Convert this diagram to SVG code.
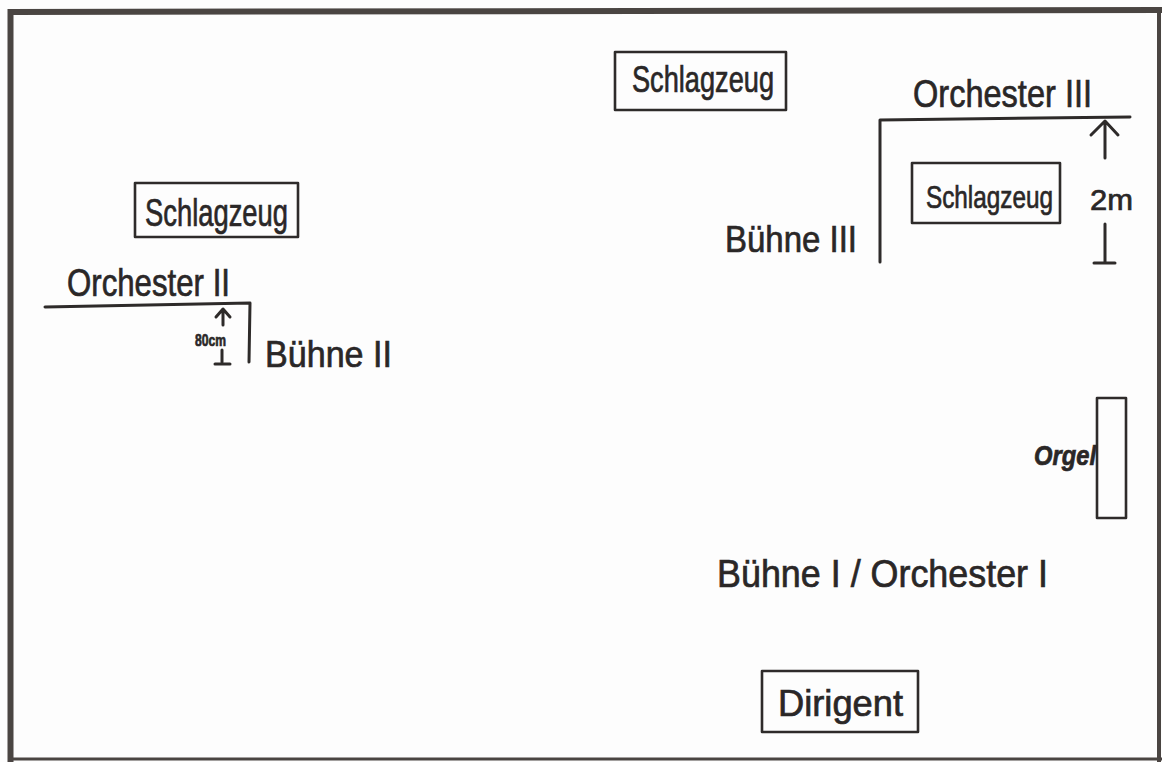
<svg xmlns="http://www.w3.org/2000/svg" width="1162" height="762" viewBox="0 0 1162 762">
<style>
.ln{fill:none;stroke:#2e2b2a;stroke-width:3;stroke-linecap:round;stroke-linejoin:round}
.bx{fill:none;stroke:#2e2b2a;stroke-width:2.6;stroke-linejoin:round}
.t{font-family:"Liberation Sans","DejaVu Sans",sans-serif;fill:#2a2727;stroke:#2a2727;stroke-width:0.7}
</style>
<rect x="0" y="0" width="1162" height="762" fill="#fdfdfd"/>
<!-- frame -->
<path d="M10.5,762 L10.5,12 L1162,10" fill="none" stroke="#4a4542" stroke-width="6"/>
<path d="M1159,10 L1159,762" fill="none" stroke="#4a4542" stroke-width="4"/>
<path d="M10,759 L1162,759" fill="none" stroke="#4a4542" stroke-width="3"/>

<g id="schlagzeug-top">
<rect class="bx" x="615" y="52" width="171" height="58"/>
<text class="t" x="632" y="92" font-size="36" textLength="142" lengthAdjust="spacingAndGlyphs">Schlagzeug</text>
</g>

<g id="schlagzeug-left">
<rect class="bx" x="135" y="183" width="163" height="54"/>
<text class="t" x="145" y="226" font-size="38" textLength="143" lengthAdjust="spacingAndGlyphs">Schlagzeug</text>
</g>

<g id="orchester-2">
<text class="t" x="67" y="296" font-size="39" textLength="163" lengthAdjust="spacingAndGlyphs">Orchester II</text>
<path class="ln" d="M45,307 L250,303 L249,362"/>
</g>

<g id="dim-80cm">
<path class="ln" d="M223,325 L223,310 M216,317 L223,309 L230,317"/>
<text class="t" x="195" y="346" font-size="17" font-weight="bold" textLength="31" lengthAdjust="spacingAndGlyphs">80cm</text>
<path class="ln" d="M222,350 L222,362 M215,364 L230,364"/>
</g>

<g id="buehne-2">
<text class="t" x="265" y="367" font-size="37" textLength="127" lengthAdjust="spacingAndGlyphs">Bühne II</text>
</g>

<g id="orchester-3">
<text class="t" x="913" y="107" font-size="39" textLength="179" lengthAdjust="spacingAndGlyphs">Orchester III</text>
<path class="ln" d="M880,262 L880,120 L1130,117"/>
</g>

<g id="schlagzeug-right">
<rect class="bx" x="912" y="163" width="148" height="60"/>
<text class="t" x="926" y="208" font-size="32" textLength="127" lengthAdjust="spacingAndGlyphs">Schlagzeug</text>
</g>

<g id="dim-2m">
<path class="ln" d="M1105,158 L1105,122 M1091,135 L1105,121 L1118,135"/>
<text class="t" x="1090" y="210" font-size="30" textLength="43" lengthAdjust="spacingAndGlyphs">2m</text>
<path class="ln" d="M1105,224 L1105,262 M1094,263 L1115,263"/>
</g>

<g id="buehne-3">
<text class="t" x="725" y="252" font-size="37" textLength="132" lengthAdjust="spacingAndGlyphs">Bühne III</text>
</g>

<g id="orgel">
<rect class="bx" x="1097" y="398" width="29" height="120"/>
<text class="t" x="1034" y="465" font-size="28" font-style="italic" font-weight="bold" textLength="62" lengthAdjust="spacingAndGlyphs">Orgel</text>
</g>

<g id="buehne-1">
<text class="t" x="717" y="587" font-size="39" textLength="331" lengthAdjust="spacingAndGlyphs">Bühne I / Orchester I</text>
</g>

<g id="dirigent">
<rect class="bx" x="762" y="671" width="156" height="61"/>
<text class="t" x="778" y="716" font-size="36" textLength="125" lengthAdjust="spacingAndGlyphs">Dirigent</text>
</g>
</svg>
